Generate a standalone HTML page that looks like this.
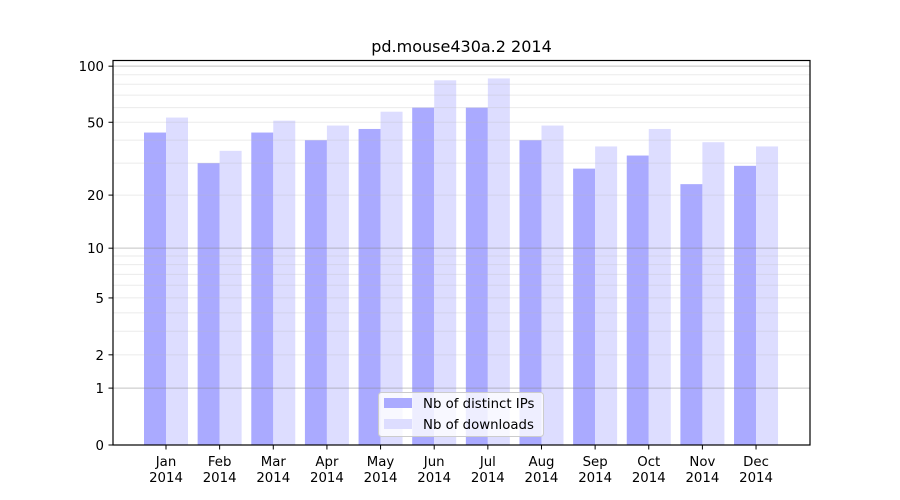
<!DOCTYPE html>
<html><head><meta charset="utf-8"><style>
html,body{margin:0;padding:0;background:#fff}
svg{display:block;font-family:"DejaVu Sans","Liberation Sans",sans-serif}
</style></head><body>
<svg id="c" width="900" height="500" xmlns="http://www.w3.org/2000/svg">
<rect width="900" height="500" fill="#fff"/>
<text x="461.5" y="52" font-size="16" text-anchor="middle" fill="#000">pd.mouse430a.2 2014</text>
<g id="bars"></g>
<g id="grid"></g>
<rect x="113" y="60.5" width="697" height="384.5" fill="none" stroke="#000" stroke-width="1.2"/>
<g id="ticks"></g>
<g>
<rect x="378.5" y="392.5" width="165" height="44" rx="3" fill="#fff" fill-opacity="0.8" stroke="#ccc"/>
<rect x="384" y="398" width="28" height="10" fill="#aaaaff"/>
<rect x="384" y="419" width="28" height="10" fill="#ddddff"/>
<text x="423" y="408" font-size="13.3" fill="#000">Nb of distinct IPs</text>
<text x="423" y="429" font-size="13.3" fill="#000">Nb of downloads</text>
</g>
</svg>
<script>
var ns="http://www.w3.org/2000/svg";
function Y(v){return 445-189*Math.log10(v+1);}
function el(p,t,a,txt){var e=document.createElementNS(ns,t);for(var k in a)e.setAttribute(k,a[k]);if(txt!==undefined)e.textContent=txt;document.getElementById(p).appendChild(e);return e;}
var ip=[44,30,44,40,46,60,60,40,28,33,23,29];
var dl=[53,35,51,48,57,84,86,48,37,46,39,37];
var m=["Jan","Feb","Mar","Apr","May","Jun","Jul","Aug","Sep","Oct","Nov","Dec"];
for(var i=0;i<12;i++){
 var c=166+i*53.64;
 el("bars","rect",{x:c-22,y:Y(ip[i]),width:22,height:445-Y(ip[i]),fill:"#aaaaff"});
 el("bars","rect",{x:c,y:Y(dl[i]),width:22,height:445-Y(dl[i]),fill:"#ddddff"});
 el("ticks","line",{x1:c,x2:c,y1:445,y2:449.5,stroke:"#000","stroke-width":1});
 el("ticks","text",{x:c,y:466,"font-size":"13.3","text-anchor":"middle"},m[i]);
 el("ticks","text",{x:c,y:482,"font-size":"13.3","text-anchor":"middle"},"2014");
}
var minors=[2,3,4,5,6,7,8,9,20,30,40,50,60,70,80,90];
minors.forEach(function(v){var y=Y(v);el("grid","line",{x1:113,x2:810,y1:y,y2:y,stroke:"#bbb","stroke-opacity":0.3,"stroke-width":1});});
[1,10,100].forEach(function(v){var y=Y(v);el("grid","line",{x1:113,x2:810,y1:y,y2:y,stroke:"#888","stroke-opacity":0.5,"stroke-width":1});});
[0,1,2,5,10,20,50,100].forEach(function(v){var y=Y(v);
 el("ticks","line",{x1:108.5,x2:113,y1:y,y2:y,stroke:"#000","stroke-width":1});
 el("ticks","text",{x:104,y:y+5,"font-size":"13.3","text-anchor":"end"},String(v));});
</script>
</body></html>
